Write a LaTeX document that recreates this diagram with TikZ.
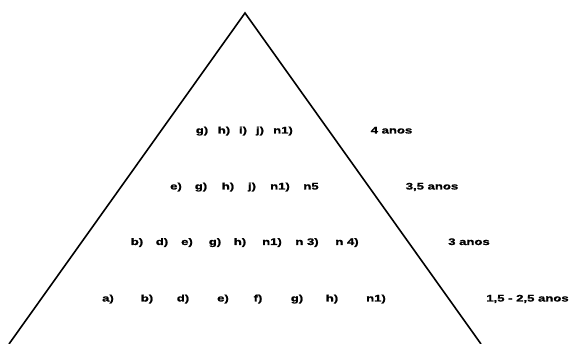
\documentclass[tikz,border=0pt]{standalone}
\usepackage{fontspec}
\setmainfont{Liberation Sans}[FakeStretch=1.38,BoldFeatures={FakeBold=1.2}]
\usepackage{tikz}
\usetikzlibrary{positioning}

\begin{document}
\begin{tikzpicture}[x=1pt,y=-1pt,
    every node/.style={font=\fontsize{9.5}{11}\selectfont\bfseries,inner sep=0pt,anchor=base},
    item/.style={},
    agelabel/.style={}]
    \useasboundingbox (0,0) rectangle (578,344);
    % pyramid
    \coordinate (apex) at (245,13);
    \coordinate (baseL) at (9,344);
    \coordinate (baseR) at (481,344);
    \draw[line width=1.6pt] (baseL) -- (apex) -- (baseR);

    % rows of items
    \foreach \t/\x [count=\i] in {g)/202,h)/224,i)/243,j)/260,n1)/283}
      \node[item] (r1-\i) at (\x,133.5) {\t};
    \foreach \t/\x [count=\i] in {e)/176,g)/201,h)/228,j)/252,n1)/280,n5/311}
      \node[item] (r2-\i) at (\x,189.5) {\t};
    \foreach \t/\x [count=\i] in {b)/137,d)/162,e)/187,g)/215,h)/240,n1)/272,n 3)/307,n 4)/347}
      \node[item] (r3-\i) at (\x,245) {\t};
    \foreach \t/\x [count=\i] in {a)/108,b)/147,d)/183,e)/223,f)/258,g)/297,h)/332,n1)/376}
      \node[item] (r4-\i) at (\x,301.5) {\t};

    % ages
    \node[agelabel] (age1) at (391.5,133.5) {4 anos};
    \node[agelabel] (age2) at (432,189.5) {3,5 anos};
    \node[agelabel] (age3) at (469,245) {3 anos};
    \node[agelabel] (age4) at (527.5,301.5) {1,5 - 2,5 anos};
\end{tikzpicture}
\end{document}
